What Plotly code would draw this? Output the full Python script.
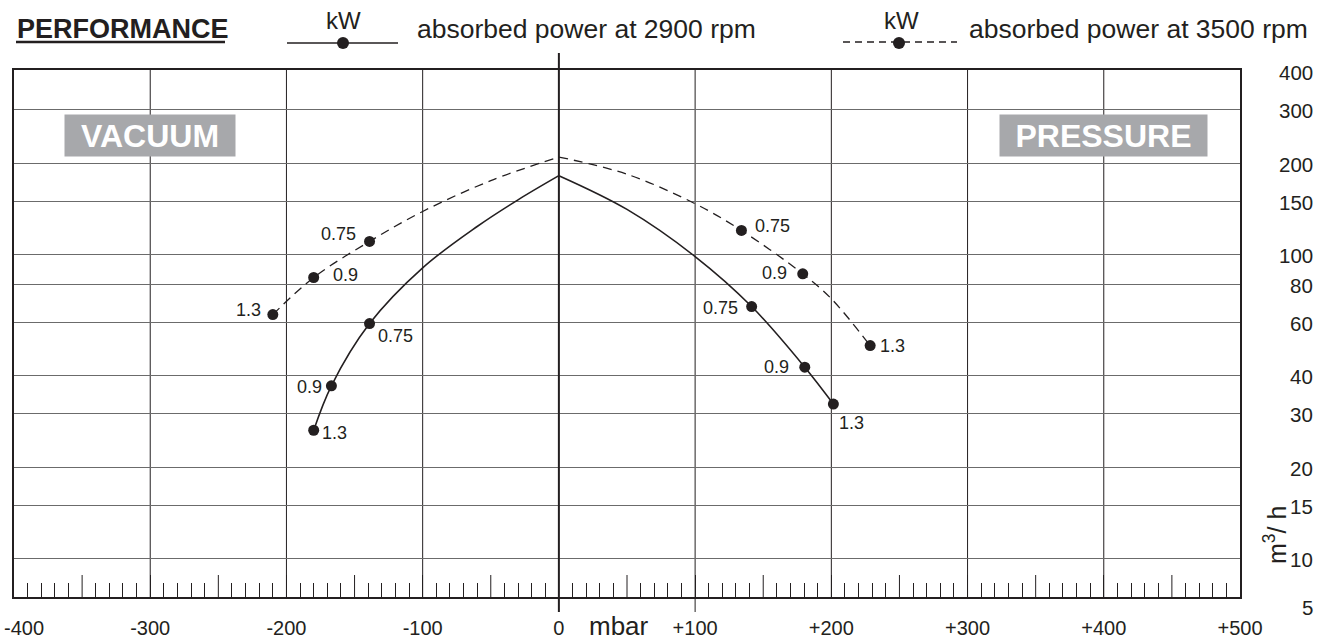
import math
import plotly.graph_objects as go

# ---------------- data ----------------
x_grid = [-300, -200, -100, 0, 100, 200, 300, 400]
x_labelled = [-300, -200, -100, 0, 100, 200, 300, 400, 500]
x_half = [-350, -250, -150, -50, 50, 150, 250, 350, 450]
y_grid = [10, 15, 20, 30, 40, 60, 80, 100, 150, 200, 300]
y_labels = [400, 300, 200, 150, 100, 80, 60, 40, 30, 20, 15, 10]
y_bottom = 7.5          # axis break: bottom of frame, labelled "5"
y_bottom_text = "5"

# absorbed power at 2900 rpm (solid curve)
c2900_left_x = [-180, -167, -139, -100, -60, -30, 0]
c2900_left_y = [26.5, 37.1, 59.4, 90.6, 123.9, 151.6, 182]
c2900_right_x = [0, 50, 100, 141.5, 180.5, 201.5]
c2900_right_y = [182, 141, 98.7, 67.6, 42.7, 32.3]
kw2900_x = [-180, -167, -139, 141.5, 180.5, 201.5]
kw2900_y = [26.5, 37.1, 59.4, 67.6, 42.7, 32.3]
kw2900_lbl = ["1.3", "0.9", "0.75", "0.75", "0.9", "1.3"]

# absorbed power at 3500 rpm (dashed curve)
c3500_left_x = [-210, -180, -139, -100, -50, 0]
c3500_left_y = [63.6, 84.2, 110.6, 138.8, 175.3, 209.6]
c3500_right_x = [0, 50, 100, 134, 179, 200, 228.5]
c3500_right_y = [209.6, 184, 147.2, 120.2, 86.6, 71.7, 50.3]
kw3500_x = [-210, -180, -139, 134, 179, 228.5]
kw3500_y = [63.6, 84.2, 110.6, 120.2, 86.6, 50.3]
kw3500_lbl = ["1.3", "0.9", "0.75", "0.75", "0.9", "1.3"]

# ---------------- styles ----------------
INK = "#231f20"
FONT = "Liberation Sans, Arial, sans-serif"
W, H = 1324, 642
L, R, T, B = 14, 84, 70, 45
PW, PH = W - L - R, H - T - B

# label placement per point: (xanchor, xshift, yshift)
pos2900 = [("left", 6, -3), ("right", -7, -1), ("left", 6, -12),
           ("right", -12, -1), ("right", -14, 0), ("left", 4, -19)]
pos3500 = [("right", -10, 5), ("left", 17, 3), ("right", -12, 7),
           ("left", 12, 4), ("right", -14, 1), ("left", 8, 0)]


def px(xp):
    return (xp - L) / PW


def py(yp):
    return (H - B - yp) / PH


fig = go.Figure()

for xs, ys in [(c2900_left_x, c2900_left_y), (c2900_right_x, c2900_right_y)]:
    fig.add_trace(go.Scatter(x=xs, y=ys, mode="lines", showlegend=False,
                             line=dict(color=INK, width=1.6, shape="spline", smoothing=1.0),
                             hoverinfo="skip"))
for xs, ys in [(c3500_left_x, c3500_left_y), (c3500_right_x, c3500_right_y)]:
    fig.add_trace(go.Scatter(x=xs, y=ys, mode="lines", showlegend=False,
                             line=dict(color=INK, width=1.3, dash="9px,6px",
                                       shape="spline", smoothing=1.0),
                             hoverinfo="skip"))
for xs, ys in [(kw2900_x, kw2900_y), (kw3500_x, kw3500_y)]:
    fig.add_trace(go.Scatter(x=xs, y=ys, mode="markers", showlegend=False,
                             marker=dict(color=INK, size=11)))

ann = []
for xs, ys, lbls, poss in [(kw2900_x, kw2900_y, kw2900_lbl, pos2900),
                           (kw3500_x, kw3500_y, kw3500_lbl, pos3500)]:
    for xv, yv, t, (xa, xs_, ys_) in zip(xs, ys, lbls, poss):
        ann.append(dict(x=xv, y=math.log10(yv), text=t, showarrow=False,
                        xanchor=xa, yanchor="middle", xshift=xs_, yshift=ys_,
                        font=dict(size=18, color=INK, family=FONT)))

# right-hand flow labels
for v in y_labels:
    ann.append(dict(xref="paper", x=px(1315), y=math.log10(v), text=str(v),
                    showarrow=False, xanchor="right", yanchor="middle", yshift=-1,
                    font=dict(size=20.5, color=INK, family=FONT)))
ann.append(dict(xref="paper", x=px(1315), y=math.log10(y_bottom), text=y_bottom_text,
                showarrow=False, xanchor="right", yanchor="middle", yshift=-10,
                font=dict(size=20.5, color=INK, family=FONT)))
# -400 label (kept inside the page)
ann.append(dict(x=-400, xref="x", yref="paper", y=py(628), text="-400", showarrow=False,
                xanchor="left", yanchor="middle", xshift=-12,
                font=dict(size=20, color=INK, family=FONT)))
# mbar, m3/h
ann.append(dict(xref="paper", yref="paper", x=px(619), y=py(626), text="mbar",
                showarrow=False, xanchor="center", yanchor="middle",
                font=dict(size=26, color=INK, family=FONT)))
ann.append(dict(xref="paper", yref="paper", x=px(1275), y=py(535), text="m<sup>3</sup>/ h",
                showarrow=False, xanchor="center", yanchor="middle", textangle=-90,
                font=dict(size=25, color=INK, family=FONT)))
# VACUUM / PRESSURE boxes
ann.append(dict(x=-300, y=math.log10(247), text="<b>VACUUM</b>", showarrow=False,
                width=170, height=41, borderpad=0, bgcolor="#a7a8ab",
                font=dict(size=32, color="white", family=FONT)))
ann.append(dict(x=400, y=math.log10(247), text="<b>PRESSURE</b>", showarrow=False,
                width=207, height=41, borderpad=0, bgcolor="#a7a8ab",
                font=dict(size=32, color="white", family=FONT)))
# header
ann.append(dict(xref="paper", yref="paper", x=px(15), y=py(29), text="<b>PERFORMANCE</b>",
                showarrow=False, xanchor="left", yanchor="middle",
                font=dict(size=27, color=INK, family=FONT)))
for cx, tx, label in [(343, 415, "absorbed power at 2900 rpm"),
                      (901, 967, "absorbed power at 3500 rpm")]:
    ann.append(dict(xref="paper", yref="paper", x=px(cx), y=py(21), text="kW",
                    showarrow=False, xanchor="center", yanchor="middle",
                    font=dict(size=24, color=INK, family=FONT)))
    ann.append(dict(xref="paper", yref="paper", x=px(tx), y=py(29), text=label,
                    showarrow=False, xanchor="left", yanchor="middle",
                    font=dict(size=26.5, color=INK, family=FONT)))

shapes = []
# vertical grid lines
for v in x_grid:
    if v == 0:
        continue
    shapes.append(dict(type="line", xref="x", yref="paper", x0=v, x1=v, y0=0, y1=1,
                       line=dict(color=INK, width=1), layer="below"))
# taller tick marks at the 50 mbar marks
for v in x_half:
    shapes.append(dict(type="line", xref="x", yref="paper", x0=v, x1=v, y0=0, y1=py(575),
                       line=dict(color=INK, width=1)))
# zero axis extends beyond frame, +100 line extends below
shapes.append(dict(type="line", xref="x", yref="paper", x0=0, x1=0, y0=py(612), y1=py(53),
                   line=dict(color=INK, width=2)))
shapes.append(dict(type="line", xref="x", yref="paper", x0=100, x1=100, y0=py(612), y1=0,
                   line=dict(color=INK, width=1)))
# header underline and legend symbols
shapes.append(dict(type="line", xref="paper", yref="paper", x0=px(16), x1=px(225),
                   y0=py(42), y1=py(42), line=dict(color=INK, width=2.5)))
shapes.append(dict(type="line", xref="paper", yref="paper", x0=px(287), x1=px(398),
                   y0=py(43), y1=py(43), line=dict(color=INK, width=1.5)))
shapes.append(dict(type="line", xref="paper", yref="paper", x0=px(843), x1=px(957),
                   y0=py(42), y1=py(42), line=dict(color=INK, width=1.3, dash="7px,5px")))
for cx in (343, 899):
    shapes.append(dict(type="circle", xref="paper", yref="paper", x0=px(cx - 6), x1=px(cx + 6),
                       y0=py(49), y1=py(37), fillcolor=INK, line=dict(color=INK, width=0)))

ticktext = ["0" if v == 0 else ("+%d" % v if v > 0 else str(v)) for v in x_labelled]

fig.update_layout(
    width=W, height=H,
    margin=dict(l=L, r=R, t=T, b=B, autoexpand=False),
    paper_bgcolor="white", plot_bgcolor="white",
    font=dict(family=FONT, color=INK),
    showlegend=False,
    annotations=ann, shapes=shapes,
    xaxis=dict(range=[-400, 500], tickvals=x_labelled, ticktext=ticktext,
               ticks="inside", ticklen=22, tickwidth=1, tickcolor=INK,
               minor=dict(tickvals=[v for v in range(-400, 501, 10) if v % 50 != 0],
                          ticks="inside", ticklen=14, tickwidth=1, tickcolor=INK,
                          showgrid=False),
               showgrid=False, zeroline=False, showline=True, mirror=True,
               linecolor=INK, linewidth=2, tickfont=dict(size=20, color=INK, family=FONT),
               ticklabelstandoff=12, automargin=False, fixedrange=True),
    yaxis=dict(type="log", range=[math.log10(y_bottom), math.log10(405)],
               tickvals=y_grid, showticklabels=False, ticks="",
               showgrid=True, gridcolor="#6b6b6b", gridwidth=1.4,
               zeroline=False, showline=True, mirror=True, linecolor=INK, linewidth=2,
               automargin=False, fixedrange=True),
)

fig.write_html("out.html", config={"displayModeBar": False},
               post_script="document.body.style.margin='0';")
